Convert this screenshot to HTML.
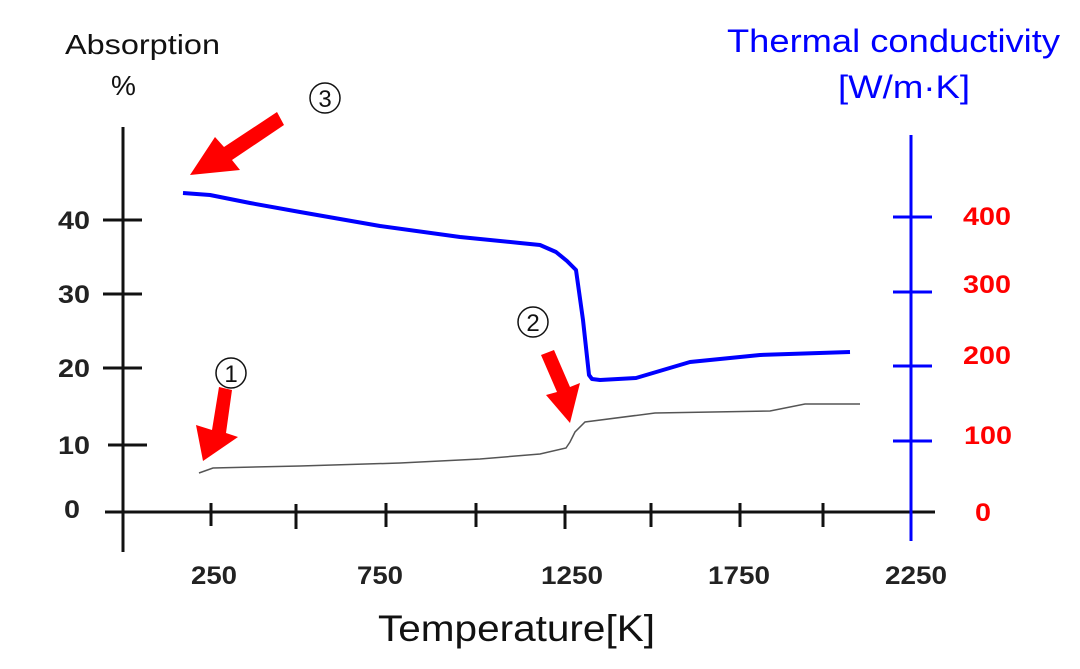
<!DOCTYPE html>
<html><head><style>body{margin:0;background:#fff}</style></head><body>
<svg width="1080" height="664" xmlns="http://www.w3.org/2000/svg" font-family="Liberation Sans, sans-serif">
<rect width="1080" height="664" fill="#fff"/>
<text x="65" y="54" font-size="28" fill="#111" textLength="155" lengthAdjust="spacingAndGlyphs">Absorption</text>
<text x="111" y="95" font-size="28" fill="#111">%</text>
<text x="727" y="52" font-size="32" fill="#0000ff" textLength="333" lengthAdjust="spacingAndGlyphs">Thermal conductivity</text>
<text x="838" y="98" font-size="32" fill="#0000ff" textLength="132" lengthAdjust="spacingAndGlyphs">[W/m·K]</text>
<text x="378" y="641" font-size="37" fill="#111" textLength="277" lengthAdjust="spacingAndGlyphs">Temperature[K]</text>
<g stroke="#111" stroke-width="3">
<line x1="123" y1="127" x2="123" y2="552"/>
<line x1="105" y1="512" x2="935" y2="512"/>
<line x1="103" y1="220" x2="142" y2="220"/>
<line x1="103" y1="294" x2="142" y2="294"/>
<line x1="103" y1="368" x2="142" y2="368"/>
<line x1="108" y1="445" x2="147" y2="445"/>
<line x1="211" y1="503" x2="211" y2="526"/>
<line x1="296" y1="504" x2="296" y2="529"/>
<line x1="386" y1="503" x2="386" y2="527"/>
<line x1="476" y1="503" x2="476" y2="527"/>
<line x1="565" y1="505" x2="565" y2="529"/>
<line x1="651" y1="503" x2="651" y2="527"/>
<line x1="740" y1="503" x2="740" y2="527"/>
<line x1="823" y1="503" x2="823" y2="527"/>
<line x1="911" y1="503" x2="911" y2="527"/>
</g>
<g font-size="25" font-weight="bold" fill="#222">
<text x="58" y="229" textLength="32" lengthAdjust="spacingAndGlyphs">40</text>
<text x="58" y="303" textLength="32" lengthAdjust="spacingAndGlyphs">30</text>
<text x="58" y="377" textLength="32" lengthAdjust="spacingAndGlyphs">20</text>
<text x="58" y="454" textLength="32" lengthAdjust="spacingAndGlyphs">10</text>
<text x="64" y="518" textLength="16" lengthAdjust="spacingAndGlyphs">0</text>
<text x="191" y="584" textLength="46" lengthAdjust="spacingAndGlyphs">250</text>
<text x="357" y="584" textLength="46" lengthAdjust="spacingAndGlyphs">750</text>
<text x="541" y="584" textLength="62" lengthAdjust="spacingAndGlyphs">1250</text>
<text x="708" y="584" textLength="62" lengthAdjust="spacingAndGlyphs">1750</text>
<text x="885" y="584" textLength="62" lengthAdjust="spacingAndGlyphs">2250</text>
</g>
<g stroke="#0000ff" stroke-width="3">
<line x1="911" y1="135" x2="911" y2="541"/>
<line x1="893" y1="217" x2="932" y2="217"/>
<line x1="893" y1="292" x2="932" y2="292"/>
<line x1="893" y1="366" x2="932" y2="366"/>
<line x1="893" y1="441" x2="932" y2="441"/>
</g>
<g font-size="25" font-weight="bold" fill="#ff0000">
<text x="963" y="225" textLength="48" lengthAdjust="spacingAndGlyphs">400</text>
<text x="963" y="293" textLength="48" lengthAdjust="spacingAndGlyphs">300</text>
<text x="963" y="364" textLength="48" lengthAdjust="spacingAndGlyphs">200</text>
<text x="964" y="444" textLength="48" lengthAdjust="spacingAndGlyphs">100</text>
<text x="975" y="521" textLength="16" lengthAdjust="spacingAndGlyphs">0</text>
</g>
<polyline fill="none" stroke="#0000ff" stroke-width="4" stroke-linejoin="round" points="183,193 210,195 250,203 300,212 380,226 460,237 520,243 540,245 556,252 567,261 576,270 583,320 589,375 592,379 600,380 636,378 690,362 760,355 850,352"/>
<polyline fill="none" stroke="#555" stroke-width="1.5" points="199,473 213,468 300,466 400,463 480,459 540,454 566,448 570,442 575,432 585,422 655,413 770,411 805,404 860,404"/>
<g fill="#ff0000" stroke="none">
<polygon points="190,175 215,137 224,147 277,112 284,125 232,160 240,170"/>
<polygon points="203,461 196,425 212,430 219,387 232,390 226,433 238,437"/>
<polygon points="570,423 546,395 557,392 541,355 554,350 570,387 580,383"/>
</g>
<g fill="#111" text-anchor="middle">
<circle cx="325" cy="98" r="15" fill="none" stroke="#111" stroke-width="1.5"/><text x="325" y="107" font-size="24">3</text>
<circle cx="231" cy="373" r="15" fill="none" stroke="#111" stroke-width="1.5"/><text x="231" y="382" font-size="24">1</text>
<circle cx="533" cy="322" r="15" fill="none" stroke="#111" stroke-width="1.5"/><text x="533" y="331" font-size="24">2</text>
</g>
</svg>
</body></html>
